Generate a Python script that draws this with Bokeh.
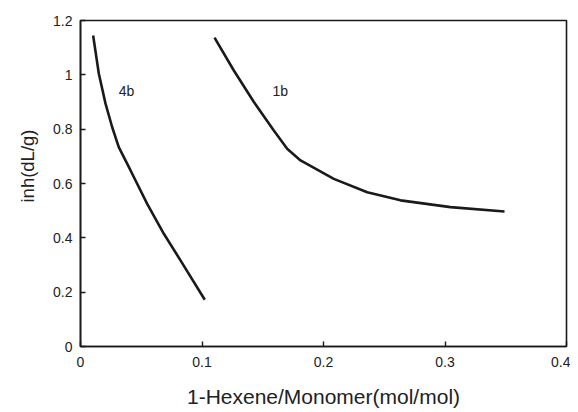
from bokeh.plotting import figure
from bokeh.embed import file_html
from bokeh.resources import INLINE
from bokeh.models import Range1d, FixedTicker, Label, Title

# Curve 4b
x_4b = [0.0104, 0.0151, 0.0206, 0.0261, 0.0315, 0.0412, 0.0549, 0.0686, 0.0823, 0.1023]
y_4b = [1.145, 1.004, 0.894, 0.807, 0.734, 0.648, 0.525, 0.415, 0.317, 0.172]

# Curve 1b
x_1b = [0.1103, 0.1262, 0.1427, 0.1591, 0.1701, 0.1811, 0.2085, 0.236, 0.2634, 0.3045, 0.349]
y_1b = [1.137, 1.016, 0.900, 0.795, 0.728, 0.685, 0.617, 0.568, 0.538, 0.513, 0.497]

x_ticks = [0, 0.1, 0.2, 0.3, 0.4]
x_tick_labels = ["0", "0.1", "0.2", "0.3", "0.4"]
y_ticks = [0, 0.2, 0.4, 0.6, 0.8, 1.0, 1.2]
y_tick_labels = ["0", "0.2", "0.4", "0.6", "0.8", "1", "1.2"]

series_labels = ["4b", "1b"]
label_x = [0.0315, 0.158]
label_y = [0.940, 0.939]

FONT = "Liberation Sans"
INK = "#1a1a1a"

p = figure(
    frame_width=486, frame_height=326,
    min_border_left=80, min_border_right=4, min_border_top=20, min_border_bottom=58,
    x_range=Range1d(0, 0.4), y_range=Range1d(0, 1.2),
    output_backend="svg", toolbar_location=None,
)
p.grid.visible = False
p.background_fill_color = "white"
p.border_fill_color = "white"
p.outline_line_color = INK
p.outline_line_width = 1.6

for ax in (p.xaxis[0], p.yaxis[0]):
    ax.axis_line_color = INK
    ax.axis_line_width = 1.6
    ax.major_tick_in = 5
    ax.major_tick_out = 0
    ax.major_tick_line_color = INK
    ax.major_tick_line_width = 1.4
    ax.minor_tick_line_color = None
    ax.major_label_text_font = FONT
    ax.major_label_text_font_size = "14px"
    ax.major_label_text_color = "#222222"
    ax.axis_label_text_font = FONT
    ax.axis_label_text_font_style = "normal"
    ax.axis_label_text_font_size = "21px"
    ax.axis_label_text_color = "#222222"

p.xaxis.ticker = FixedTicker(ticks=x_ticks)
p.xaxis.major_label_overrides = {t: l for t, l in zip(x_ticks, x_tick_labels)}
p.yaxis.ticker = FixedTicker(ticks=y_ticks)
p.yaxis.major_label_overrides = {t: l for t, l in zip(y_ticks, y_tick_labels)}
p.xaxis.major_label_standoff = 10
p.yaxis.major_label_standoff = 8
p.xaxis.axis_label = "1-Hexene/Monomer(mol/mol)"
p.xaxis.axis_label_standoff = 15

# y-axis title, placed toward the upper part as in the reference
p.add_layout(Title(text="inh(dL/g)", align="right", offset=109,
                   text_font=FONT, text_font_size="18.5px", text_font_style="normal",
                   text_color="#222222", standoff=26), "left")

p.line(x_4b, y_4b, line_color=INK, line_width=2.6)
p.line(x_1b, y_1b, line_color=INK, line_width=2.6)

for t, lx, ly in zip(series_labels, label_x, label_y):
    p.add_layout(Label(x=lx, y=ly, text=t, text_font=FONT, text_font_size="14px",
                       text_color="#222222", text_baseline="middle", text_align="left"))

open("out.html", "w").write(file_html(p, INLINE))
